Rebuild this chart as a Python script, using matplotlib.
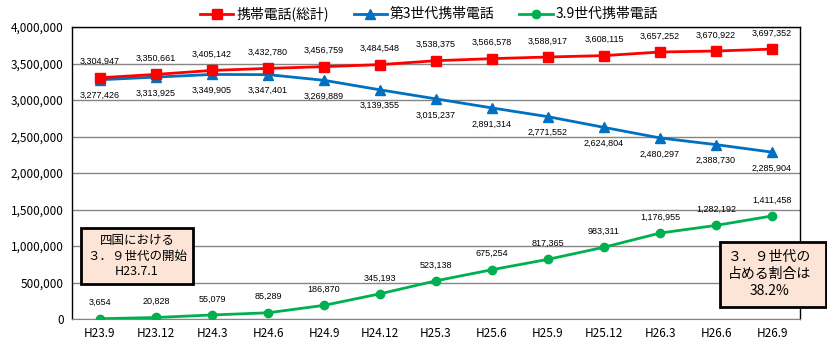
import matplotlib
matplotlib.use("Agg")
from matplotlib import pyplot as plt
from matplotlib.patches import Rectangle
from matplotlib.ticker import FuncFormatter

# quarterly subscriber counts (Shikoku)
quarters = ["H23.9", "H23.12", "H24.3", "H24.6", "H24.9", "H24.12", "H25.3",
            "H25.6", "H25.9", "H25.12", "H26.3", "H26.6", "H26.9"]
total = [3304947, 3350661, 3405142, 3432780, 3456759, 3484548, 3538375,
         3566578, 3588917, 3608115, 3657252, 3670922, 3697352]
gen3 = [3277426, 3313925, 3349905, 3347401, 3269889, 3139355, 3015237,
        2891314, 2771552, 2624804, 2480297, 2388730, 2285904]
gen39 = [3654, 20828, 55079, 85289, 186870, 345193, 523138,
         675254, 817365, 983311, 1176955, 1282192, 1411458]

JP = ["Noto Sans CJK JP", "DejaVu Sans"]
plt.rcParams['font.family'] = JP

fig = plt.figure(figsize=(8.28, 3.42), dpi=100)
ax = fig.add_axes([72/828, 23/342, 728/828, 292/342])

x = range(len(quarters))
ax.plot(x, total, color='#FF0000', lw=2, marker='s', ms=7, label='携帯電話(総計)', zorder=4)
ax.plot(x, gen3, color='#0070C0', lw=2, marker='^', ms=7, label='第3世代携帯電話', zorder=3)
ax.plot(x, gen39, color='#00B050', lw=2, marker='o', ms=6, label='3.9世代携帯電話', zorder=3)

lab_font = dict(fontsize=6.5, family='Liberation Sans', ha='center', va='center')
for i in x:
    ax.annotate(f"{total[i]:,}", (i, total[i]), xytext=(0, 11.5), textcoords='offset points', **lab_font)
    ax.annotate(f"{gen3[i]:,}", (i, gen3[i]), xytext=(0, -11.5), textcoords='offset points', **lab_font)
    ax.annotate(f"{gen39[i]:,}", (i, gen39[i]), xytext=(0, 11.5), textcoords='offset points', **lab_font)

ax.set_xlim(-0.5, len(quarters) - 0.5)
ax.set_ylim(0, 4000000)
ax.set_yticks(range(0, 4000001, 500000))
ax.yaxis.set_major_formatter(FuncFormatter(lambda v, p: f"{int(v):,}"))
ax.set_xticks(list(x))
ax.set_xticklabels(quarters)
ax.tick_params(length=0, labelsize=8.5, pad=6)
ax.yaxis.grid(True, color='#868686', lw=1)
ax.set_axisbelow(True)
for s in ['left', 'top', 'right']:
    ax.spines[s].set_color('black')
    ax.spines[s].set_linewidth(1)
ax.spines['bottom'].set_color('#868686')

fig.legend(loc='center', bbox_to_anchor=(429/828, 1 - 14/342), ncol=3, frameon=False,
           fontsize=10, handlelength=2.4, columnspacing=1.8, handletextpad=0.2)

# annotation boxes
fig.text(137/828, 1 - 256/342, "四国における\n３．９世代の開始\nH23.7.1", ha='center', va='center',
         fontsize=9, linespacing=1.25,
         bbox=dict(boxstyle='square,pad=0.45', fc='#FCE4D6', ec='black', lw=2))
fig.patches.append(Rectangle((720/828, 1 - 307/342), 106/828, 65/342, transform=fig.transFigure,
                             fc='#FCE4D6', ec='black', lw=2, zorder=5))
fig.text(770/828, 1 - 274/342, "３．９世代の\n占める割合は\n38.2%", ha='center', va='center',
         fontsize=10, linespacing=1.3, zorder=6)

fig.savefig("out.png", dpi=100)
